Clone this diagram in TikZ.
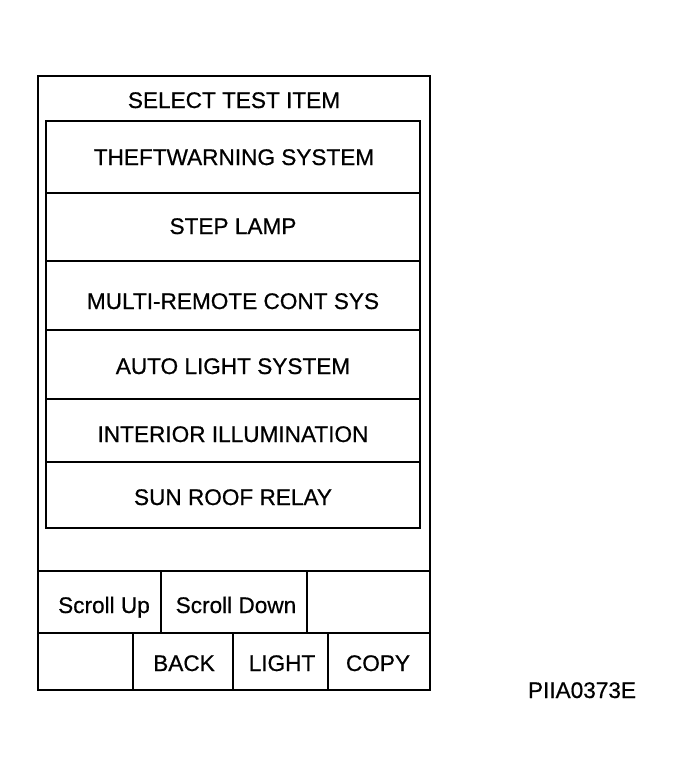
\documentclass[tikz,border=0pt]{standalone}
\usepackage{fontspec}
\setmainfont{Liberation Sans}[FakeBold=0.6]
\tikzset{
  screentext/.style={inner sep=0pt, text height=16pt, text depth=0pt,
    font=\fontsize{22.6}{26}\selectfont},
  frameline/.style={line width=2.4pt, line cap=rect},
}
\begin{document}
\begin{tikzpicture}[x=1pt,y=-1pt]
                        \useasboundingbox (0,0) rectangle (679,774);
                        % screen frame
                        \coordinate (FA) at (38,76);
                        \coordinate (FB) at (430,690);
                        \draw[frameline] (FA) rectangle (FB);
                        \node[screentext] (title) at (234,100) {SELECT TEST ITEM};
                        % list of test items
                        \coordinate (LA) at (46,121);
                        \coordinate (LB) at (420,528);
                        \draw[frameline] (LA) rectangle (LB);
                        \foreach \y/\n in {193/r1, 261/r2, 330/r3, 399/r4, 462/r5} {
                            \coordinate (\n L) at (46,\y);
                            \coordinate (\n R) at (420,\y);
                            \draw[frameline] (\n L) -- (\n R);
                        }
                        \node[screentext] (theft) at (234,157) {THEFTWARNING SYSTEM};
                        \node[screentext] (step) at (233,226) {STEP LAMP};
                        \node[screentext] (multi) at (233,301) {MULTI-REMOTE CONT SYS};
                        \node[screentext] (auto) at (233,366) {AUTO LIGHT SYSTEM};
                        \node[screentext] (interior) at (233,434) {INTERIOR ILLUMINATION};
                        \node[screentext] (sunroof) at (233,497) {SUN ROOF RELAY};
                        % buttons
                        \coordinate (S1) at (38,571);
                        \coordinate (S2) at (430,571);
                        \coordinate (S3) at (38,633);
                        \coordinate (S4) at (430,633);
                        \draw[frameline] (S1) -- (S2);
                        \draw[frameline] (S3) -- (S4);
                        \draw[frameline] (161,571) -- (161,633);
                        \draw[frameline] (307,571) -- (307,633);
                        \draw[frameline] (133,633) -- (133,690);
                        \draw[frameline] (233,633) -- (233,690);
                        \draw[frameline] (328,633) -- (328,690);
                        \node[screentext] (up) at (104,605) {Scroll Up};
                        \node[screentext] (down) at (236,605) {Scroll Down};
                        \node[screentext] (back) at (184,663) {BACK};
                        \node[screentext] (light) at (282,663) {LIGHT};
                        \node[screentext] (copy) at (378,663) {COPY};
                        \node[screentext] (code) at (582,690) {PIIA0373E};
                    \end{tikzpicture}
\end{document}
